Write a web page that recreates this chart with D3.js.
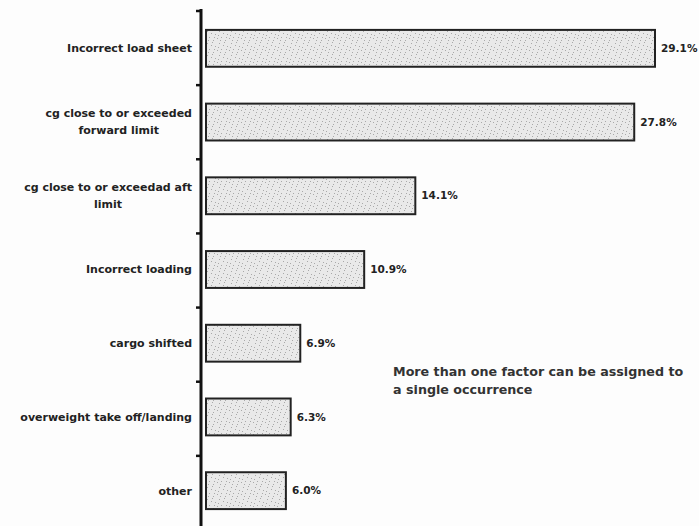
<!DOCTYPE html>
<html>
<head>
<meta charset="utf-8">
<script src="https://cdn.jsdelivr.net/npm/d3@7"></script>
<style>
  body { margin: 0; background: #fdfdfd; }
  text { font-family: "DejaVu Sans", Verdana, sans-serif; }
</style>
</head>
<body>
<script>
// canvas size
var width = 699
var height = 526

// categories (each entry = lines of the label) and percentages
const categories = [
  ["Incorrect load sheet"],
  ["cg close to or exceeded", "forward limit"],
  ["cg close to or exceedad aft", "limit"],
  ["Incorrect loading"],
  ["cargo shifted"],
  ["overweight take off/landing"],
  ["other"]
];
const values = [29.1, 27.8, 14.1, 10.9, 6.9, 6.3, 6.0];
const valueLabels = ["29.1%", "27.8%", "14.1%", "10.9%", "6.9%", "6.3%", "6.0%"];
const noteLines = ["More than one factor can be assigned to", "a single occurrence"];

var axisX = 201 // vertical axis position
var barX0 = 206 // bars start just right of the axis

const svg = d3.select("body").append("svg")
  .attr("width", width)
  .attr("height", height)

// stippled grey fill like the scanned original
var defs = svg.append("defs")
var pat = defs.append("pattern")
  .attr("id", "stipple")
  .attr("patternUnits", "userSpaceOnUse")
  .attr("width", 12).attr("height", 12)
pat.append("rect").attr("width", 12).attr("height", 12).attr("fill", "#e9e9e9")
var specks = [[1,2],[5,1],[9,4],[3,7],[7,9],[11,10],[2,11],[8,6],[10,1],[4,4]]
pat.selectAll("rect.s").data(specks).enter().append("rect")
  .attr("class", "s")
  .attr("x", d => d[0]).attr("y", d => d[1])
  .attr("width", 1).attr("height", 1)
  .attr("fill", "#a9a9a9")

var y = d3.scaleBand()
  .domain(d3.range(categories.length))
  .range([10, 529])
  .paddingInner(0.5)
  .paddingOuter(0.27)

// bars in the original are not drawn from zero exactly; fitted linear scale
var x = d3.scaleLinear()
  .domain([1, 29.1])
  .range([206, 655])

var yb = d3.scaleLinear().domain([0, categories.length]).range([10, 529])

// bars
svg.selectAll("rect.bar")
  .data(values)
  .enter()
  .append("rect")
  .attr("class", "bar")
  .attr("x", barX0)
  .attr("y", (d, i) => y(i))
  .attr("width", d => x(d) - barX0)
  .attr("height", y.bandwidth())
  .style("fill", "url(#stipple)")
  .style("stroke", "#222")
  .style("stroke-width", 2)

// value labels
svg.selectAll("text.val")
  .data(values)
  .enter()
  .append("text")
  .attr("class", "val")
  .attr("x", d => x(d) + 6)
  .attr("y", (d, i) => y(i) + y.bandwidth() / 2)
  .attr("dy", "0.35em")
  .attr("font-size", "10.5px")
  .attr("font-weight", "bold")
  .attr("fill", "#222")
  .text((d, i) => valueLabels[i])

// category labels: multi-line ones are centred, block right-aligned at x=192
var cat = svg.selectAll("g.cat")
  .data(categories)
  .enter()
  .append("g")
  .attr("class", "cat")

cat.each(function(lines, i) {
  var g = d3.select(this)
  var cy = y(i) + y.bandwidth() / 2
  var lh = 17
  var t = g.selectAll("text").data(lines).enter().append("text")
    .attr("y", (d, j) => cy + (j - (lines.length - 1) / 2) * lh)
    .attr("dy", "0.35em")
    .attr("font-size", "11px")
    .attr("font-weight", "bold")
    .attr("fill", "#222")
    .text(d => d)
  var widths = t.nodes().map(n => n.getComputedTextLength())
  var maxW = d3.max(widths)
  var cx = 192 - maxW / 2
  t.attr("x", lines.length > 1 ? cx : 192)
   .attr("text-anchor", lines.length > 1 ? "middle" : "end")
})

// vertical axis with ticks on the left at band boundaries
svg.append("line")
  .attr("x1", axisX).attr("x2", axisX)
  .attr("y1", 9).attr("y2", height)
  .style("stroke", "#111")
  .style("stroke-width", 3)

svg.selectAll("line.tick")
  .data(d3.range(categories.length))
  .enter()
  .append("line")
  .attr("class", "tick")
  .attr("x1", axisX - 5).attr("x2", axisX)
  .attr("y1", d => yb(d) + 1).attr("y2", d => yb(d) + 1)
  .style("stroke", "#111")
  .style("stroke-width", 2.5)

// note
svg.append("text")
  .attr("x", 393)
  .attr("y", 372)
  .attr("font-size", "12.7px")
  .attr("font-weight", "bold")
  .attr("fill", "#333")
  .selectAll("tspan")
  .data(noteLines)
  .enter()
  .append("tspan")
  .attr("x", 393)
  .attr("dy", (d, i) => i === 0 ? "0.35em" : "1.4em")
  .text(d => d)
</script>
</body>
</html>
